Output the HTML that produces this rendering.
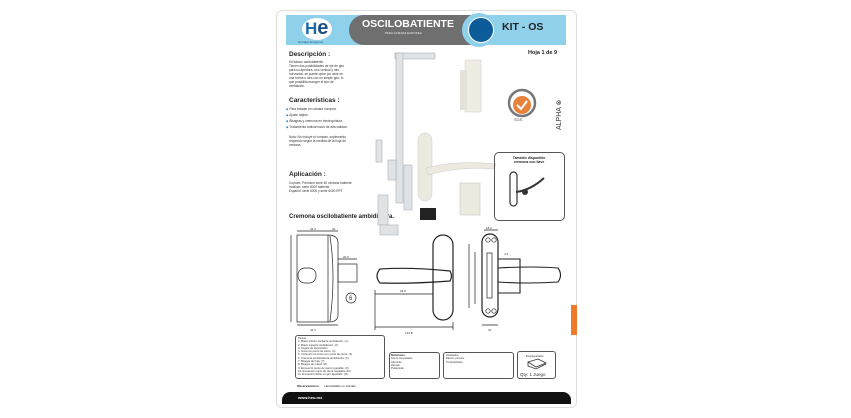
<!DOCTYPE html>
<html><head><meta charset="utf-8"><style>
*{margin:0;padding:0;box-sizing:border-box}
body{width:851px;height:418px;background:#fff;position:relative;overflow:hidden;font-family:"Liberation Sans",sans-serif;color:#222}
.a{position:absolute}
.t{font-size:3.2px;line-height:4px;color:#333}
.h{font-weight:bold;font-size:6.5px;color:#222;font-family:"Liberation Sans Narrow","Liberation Sans",sans-serif}
.box{position:absolute;border:1px solid #555;border-radius:3px}
</style></head><body>
<div class="a" style="left:276px;top:10px;width:301px;height:398px;border:1px solid #ddd;border-radius:6px"></div>
<!-- header -->
<div class="a" style="left:286px;top:15px;width:280px;height:30px;background:#8fd0ea"></div>
<div class="a" style="left:349px;top:15px;width:130px;height:30px;background:#6f6f6f;border-radius:15px 0 0 15px"></div>
<div class="a" style="left:462px;top:13px;width:34px;height:34px;border-radius:50%;background:#8fd0ea"></div>
<div class="a" style="left:468px;top:17px;width:26px;height:26px;border-radius:50%;background:#0d5c9a;border:1.5px solid #fff"></div>
<div class="a" style="left:362px;top:18px;font-size:10.5px;font-weight:bold;color:#fff">OSCILOBATIENTE</div>
<div class="a" style="left:385px;top:31px;font-size:3px;color:#eee">PARA CAMARA EUROPEA</div>
<div class="a" style="left:502px;top:21px;font-size:10.5px;font-weight:bold;color:#222">KIT - OS</div>
<div class="a" style="left:302px;top:18px;width:30px;height:22px;border-radius:50%;background:#fff"></div>
<div class="a" style="left:305px;top:17px;font-size:17px;font-weight:bold;color:#1b6aa8">H<span style="color:#1b4f8a;font-size:20px">e</span></div>
<div class="a" style="left:298px;top:40px;font-size:3px;color:#1b4f8a">Herrajes Europeos</div>
<div class="a" style="left:528px;top:50px;font-size:5.5px;font-weight:bold">Hoja 1 de 9</div>
<!-- left text -->
<div class="a h" style="left:289px;top:51px">Descripción :</div>
<div class="a t" style="left:289px;top:60px;width:60px">Kit básico oscilobatiente.<br>Tienen dos posibilidades de eje de giro para su apertura, uno vertical y otro horizontal, se puede optar por abrir en una forma u otra con un simple giro, lo que posibilita escoger el tipo de ventilación.</div>
<div class="a h" style="left:289px;top:97px">Características :</div>
<div class="a t" style="left:286px;top:106px;line-height:6px"><span style="color:#1a7fc0">◆</span> Para instalar en cámara europea.<br><span style="color:#1a7fc0">◆</span> Ajuste rápido.<br><span style="color:#1a7fc0">◆</span> Bisagras y cremona en electropintura.<br><span style="color:#1a7fc0">◆</span> Tratamiento anticorrosivo de alta calidad.</div>
<div class="a t" style="left:289px;top:135px;width:62px">Nota: No incluye el compás, suplemento requerido según la medida de la hoja de ventana.</div>
<div class="a h" style="left:289px;top:171px">Aplicación :</div>
<div class="a t" style="left:289px;top:181px;width:70px">Cuprum: Premium serie 45 ventana batiente.<br>Indalum: serie 6000 batiente.<br>Español: serie 6000 y serie 6000 RPT.</div>
<div class="a h" style="left:289px;top:214px;font-size:6px">Cremona oscilobatiente ambidiestra.</div>
<!-- graphics -->
<svg class="a" style="left:0;top:0" width="851" height="418" font-family="Liberation Sans">
<g fill="#dfe3e6" stroke="#a8b0b6" stroke-width="0.6">
<rect x="395" y="53" width="40" height="6"/><rect x="396" y="53" width="7" height="150"/>
<rect x="376" y="140" width="6" height="22"/><rect x="388" y="160" width="8" height="20"/><rect x="378" y="195" width="10" height="30"/>
<rect x="404" y="165" width="8" height="45"/>
<rect x="380" y="225" width="18" height="10"/>
</g>
<path d="M465 60 h16 v52 h-16z" fill="#efece2" stroke="#ccc" stroke-width="0.5"/>
<path d="M460 70 h7 v40 h-7z" fill="#e4e1d8"/>
<rect x="418" y="133" width="14" height="68" rx="7" fill="#ece9df" stroke="#ccc" stroke-width="0.5"/>
<path d="M426 168 q30 -8 70 -4 l-2 5 q-35 -3 -66 6z" fill="#ece9df" stroke="#ccc" stroke-width="0.5"/>
<rect x="460" y="183" width="20" height="32" fill="#ece9df" stroke="#bbb" stroke-width="0.5"/>
<rect x="420" y="208" width="16" height="12" fill="#222"/>
<circle cx="522" cy="103" r="13" fill="none" stroke="#777" stroke-width="2.5"/>
<circle cx="522" cy="105" r="9" fill="#e8823a"/>
<path d="M517 105 l4 4 l6 -8" stroke="#fff" stroke-width="2" fill="none"/>
<text x="514" y="121" font-size="4" fill="#444">SGS</text>
<text x="561" y="130" font-size="7" fill="#333" transform="rotate(-90 561 130)">ALPHA ⊗</text>
<!-- drawing 1 -->
<g fill="none" stroke="#222" stroke-width="0.7">
<rect x="297" y="235" width="31" height="87"/>
<path d="M328 235 q10 0 10 8 v72 q0 7 -10 7"/>
<path d="M330 236 q6 40 0 85"/>
<rect x="298" y="268" width="18" height="15" rx="7"/>
<rect x="338" y="264" width="19" height="18"/>
<path d="M291 235 v87 M297 231 h41 M297 325 h41 M338 259 h19"/>
<circle cx="351" cy="298" r="5"/>
<!-- drawing 2 -->
<rect x="433" y="235" width="20" height="85" rx="10" stroke-width="1.2"/>
<path d="M380 269 q30 -2 70 2 q3 5 0 10 q-40 3 -70 2 q-6 -7 0 -14z" stroke-width="1.2"/>
<path d="M375 294 h58 M375 327 h78 M375 290 v40 M453 322 v8"/>
<!-- drawing 3 -->
<rect x="482" y="234" width="16" height="83" rx="8" stroke-width="1.2"/>
<rect x="487" y="253" width="5" height="45"/>
<circle cx="488" cy="240" r="2.2"/><circle cx="494" cy="240" r="2.2"/><circle cx="488" cy="311" r="2.2"/><circle cx="494" cy="311" r="2.2"/>
<path d="M498 259 h22 v34 h-22 M498 268 q35 -2 60 0 q5 7 0 14 q-30 2 -60 0" stroke-width="1.1"/>
<path d="M469 244 v64 M475 252 v52 M482 325 h16 M484 230 h14"/>
</g>
<g font-size="3" fill="#333">
<text x="310" y="230">44.3</text><text x="332" y="230">20</text><text x="310" y="331">44.3</text>
<text x="343" y="258">20.6</text><text x="349" y="300" font-size="6">6</text>
<text x="400" y="292">94.8</text><text x="405" y="334">123.8</text>
<text x="486" y="229">18.2</text><text x="488" y="331">31</text><text x="504" y="255">4.3</text>
</g>
</svg>
<div class="box" style="left:494px;top:152px;width:71px;height:69px;border-radius:5px"></div>
<div class="a" style="left:506px;top:156px;font-size:3.5px;text-align:center;width:46px;font-weight:bold">También disponible cremona con llave</div>
<svg class="a" style="left:500px;top:170px" width="60" height="45"><rect x="10" y="2" width="7" height="34" rx="3.5" fill="none" stroke="#333" stroke-width="1.2"/><path d="M16 22 q15 -2 28 -14" stroke="#333" stroke-width="2" fill="none"/><circle cx="25" cy="22" r="3" fill="#333"/></svg>
<!-- bottom boxes -->
<div class="box" style="left:295px;top:335px;width:90px;height:44px"></div>
<div class="a t" style="left:298px;top:337px;font-size:2.7px;line-height:3.3px">Piezas:<br>1. Brazo inferior oscilante ambidiestro. (1)<br>2. Brazo superior ambidiestro. (2)<br>3. Ángulo de transmisión.<br>4. Guía con punto de cierre. (4)<br>5. Conexión cremona con punto de cierre. (3)<br>6. Cremona oscilobatiente ambidiestra. (6)<br>7. Bisagra de hoja. (7)<br>8. Bisagra de marco. (8)<br>9. Encuentro punto de cierre regulable. (9)<br>10. Encuentro punto de cierre regulable (10)<br>11. Encuentro doble en giro ajustable. (11)</div>
<div class="box" style="left:389px;top:352px;width:51px;height:27px"></div>
<div class="a t" style="left:391px;top:354px;font-size:2.8px;line-height:3.3px"><b>Materiales:</b><br>Acero troquelado.<br>Aluminio.<br>Zamak.<br>Poliamida.</div>
<div class="box" style="left:443px;top:352px;width:71px;height:27px"></div>
<div class="a t" style="left:446px;top:354px;font-size:2.8px;line-height:3.3px">Acabados:<br>Electro pintura.<br>Tropicalizado.</div>
<div class="box" style="left:517px;top:351px;width:39px;height:28px"></div>
<div class="a t" style="left:526px;top:354px;font-size:2.8px">Empaquetado</div>
<svg class="a" style="left:526px;top:358px" width="22" height="12"><path d="M2 4 l8 5 l10 -4 l-8 -4z M2 4 v4 l8 3 l10 -5" fill="none" stroke="#333" stroke-width="0.8"/></svg>
<div class="a" style="left:520px;top:372px;font-size:4.5px;color:#333">Qty: 1 Juego</div>
<div class="a" style="left:297px;top:384px;font-size:3px;font-weight:bold">Observaciones: <span style="font-weight:normal;margin-left:4px">Herrabatible no incluido</span></div>
<!-- orange tab -->
<div class="a" style="left:571px;top:305px;width:6px;height:30px;background:#ef7a2a"></div>
<!-- footer -->
<div class="a" style="left:282px;top:392px;width:289px;height:12px;background:#111;border-radius:8px 8px 0 0"></div>
<div class="a" style="left:298px;top:395px;font-size:4px;font-weight:bold;color:#fff">www.heu.mx</div>
</body></html>
